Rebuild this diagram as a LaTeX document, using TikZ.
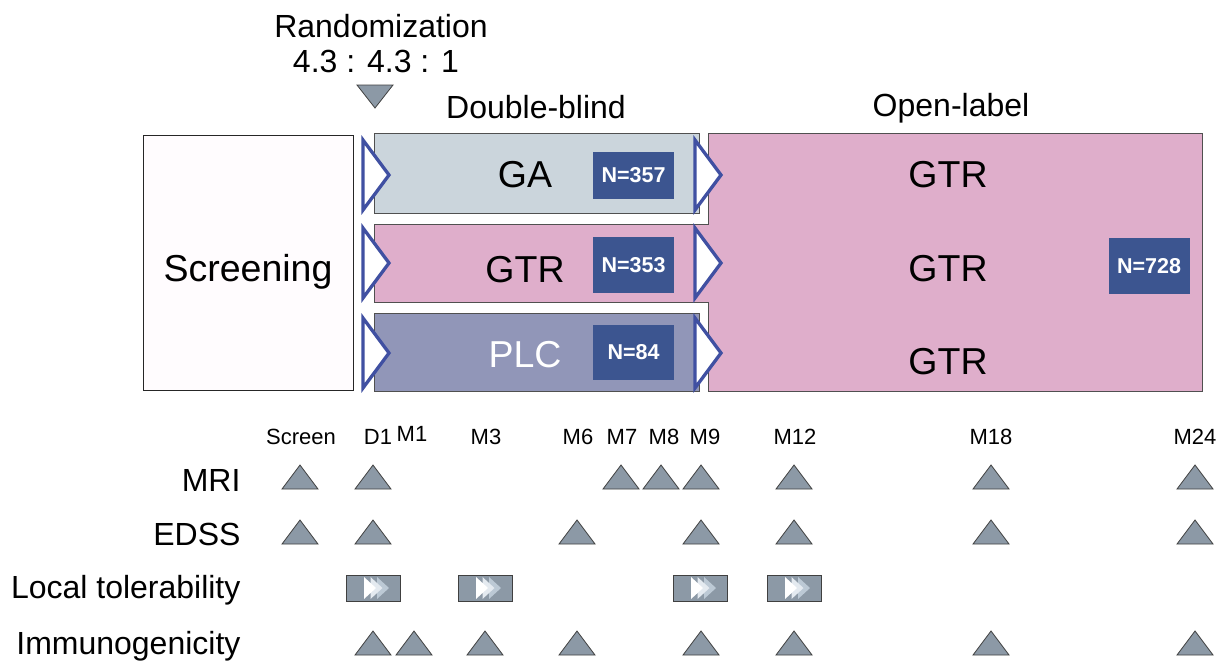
\documentclass[tikz,border=0pt]{standalone}
\usepackage{fontspec}
\setmainfont{Liberation Sans}
\definecolor{trigray}{HTML}{8C99A6}
\definecolor{gafill}{HTML}{CBD5DC}
\definecolor{pinkfill}{HTML}{DFAECB}
\definecolor{plcfill}{HTML}{9196B8}
\definecolor{nblue}{HTML}{3C5590}
\definecolor{chevblue}{HTML}{4050A2}
\definecolor{scrfill}{HTML}{FFFCFE}
\definecolor{edge}{HTML}{505050}
\definecolor{chevA}{HTML}{FFFFFF}
\definecolor{chevB}{HTML}{E4EAF0}
\definecolor{chevC}{HTML}{BCC9D5}
\begin{document}
\begin{tikzpicture}[x=1pt,y=-1pt,
  box/.style={draw=edge,line width=1pt},
  tri/.style={draw=black!75,fill=trigray,line width=0.8pt,line join=miter},
  chev/.style={draw=chevblue,fill=white,line width=3.3pt,line join=miter},
  nbox/.style={fill=nblue,text=white,font=\fontsize{21.5}{24}\selectfont\bfseries,inner sep=0pt,minimum width=81pt},
  lbl/.style={font=\fontsize{32}{36}\selectfont,anchor=base},
  big/.style={font=\fontsize{37.5}{42}\selectfont,anchor=base},
  tl/.style={font=\fontsize{22}{24}\selectfont,anchor=base},
  ]
\useasboundingbox (0,0) rectangle (1228,662);
\fill[white] (0,0) rectangle (1228,662);

% header texts
\node[lbl] (rand) at (381,37) {Randomization};
\node[lbl] (ratio) at (376,72) {4.3 : 4.3 : 1};
\draw[tri] (357,85) -- (393,85) -- (375,108) -- cycle;
\node[lbl] (db) at (536,118) {Double-blind};
\node[lbl] (ol) at (951,116) {Open-label};

% screening box
\draw[box,draw=black!85,fill=scrfill] (143,135) rectangle (353,390);
\node[big] (scr) at (248,281) {Screening};

% double-blind boxes
\draw[box,fill=gafill] (374,133) rectangle (699,213);
\draw[box,fill=plcfill] (374,313) rectangle (699,391);
\draw[box,fill=pinkfill] (374,224) -- (708,224) -- (708,133) -- (1202,133) -- (1202,391)
  -- (708,391) -- (708,302) -- (374,302) -- cycle;

\node[big] (ga) at (525,187) {GA};
\node[big] (gtr) at (525,282) {GTR};
\node[big,text=white] (plc) at (525,367) {PLC};

\node[nbox,minimum height=47pt] (n357) at (633.5,175.5) {N=357};
\node[nbox,minimum height=56pt] (n353) at (633.5,265) {N=353};
\node[nbox,minimum height=55pt] (n84) at (633.5,352.5) {N=84};

\node[big] (gtra) at (948,187) {GTR};
\node[big] (gtrb) at (948,281) {GTR};
\node[big] (gtrc) at (948,374) {GTR};
\node[nbox,minimum height=56pt] (n728) at (1149,266) {N=728};

% chevrons
\foreach \x in {363,695}{
  \draw[chev] (\x,140) -- (\x+26,175) -- (\x,210) -- cycle;
  \draw[chev] (\x,228) -- (\x+26,263) -- (\x,298) -- cycle;
  \draw[chev] (\x,318) -- (\x+26,353) -- (\x,388) -- cycle;
}

% timeline labels
\node[tl] (tscr) at (301,444) {Screen};
\node[tl] (td1) at (378,444) {D1};
\node[tl] (tm1) at (412,441) {M1};
\node[tl] (tm3) at (486,444) {M3};
\node[tl] (tm6) at (578,444) {M6};
\node[tl] (tm7) at (622,444) {M7};
\node[tl] (tm8) at (664,444) {M8};
\node[tl] (tm9) at (705,444) {M9};
\node[tl] (tm12) at (795,444) {M12};
\node[tl] (tm18) at (991,444) {M18};
\node[tl] (tm24) at (1195,444) {M24};

% row labels
\node[lbl,anchor=base east] (mri) at (244,491) {MRI};
\node[lbl,anchor=base east] (edss) at (244,545) {EDSS};
\node[lbl,anchor=base east] (loc) at (244,598) {Local tolerability};
\node[lbl,anchor=base east] (imm) at (244,654) {Immunogenicity};

% MRI
\foreach \x in {300,373,621,661,701,794,991,1195}
  \draw[tri] (\x-18,489) -- (\x+18,489) -- (\x,465) -- cycle;
% EDSS
\foreach \x in {300,373,577,701,794,991,1195}
  \draw[tri] (\x-18,544) -- (\x+18,544) -- (\x,520) -- cycle;
% Immunogenicity
\foreach \x in {373,414,485,577,701,794,991,1195}
  \draw[tri] (\x-18,655) -- (\x+18,655) -- (\x,631) -- cycle;
% Local tolerability
\foreach \x in {346,458,673,767}{
  \draw[tri] (\x,575) rectangle ++(54,26);
  \fill[chevC] (\x+31,577) -- (\x+43,588) -- (\x+31,599) -- cycle;
  \fill[chevB] (\x+24.5,577) -- (\x+36.5,588) -- (\x+24.5,599) -- cycle;
  \fill[chevA] (\x+18,577) -- (\x+30,588) -- (\x+18,599) -- cycle;
}
\end{tikzpicture}
\end{document}
